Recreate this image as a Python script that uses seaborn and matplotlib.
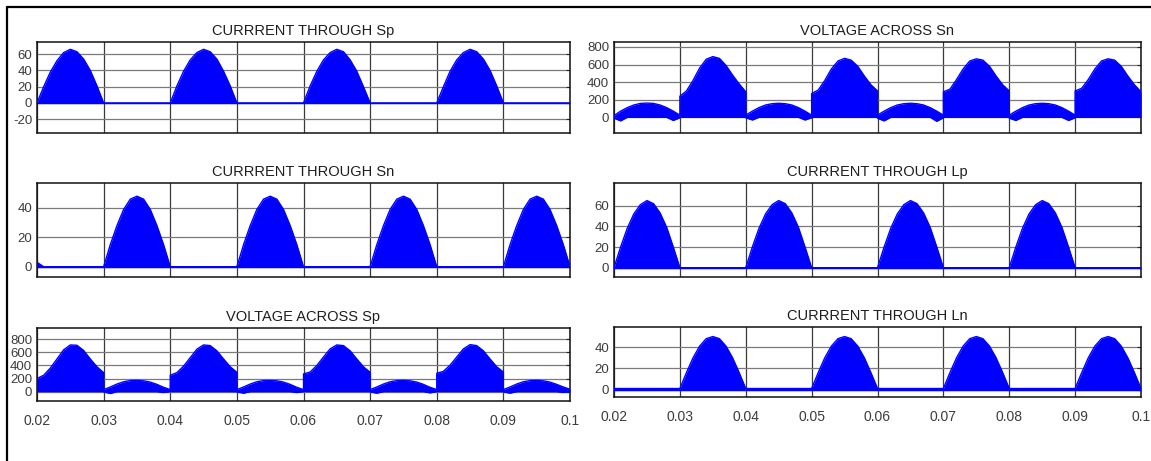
import numpy as np
import matplotlib
matplotlib.use("Agg")
import matplotlib.pyplot as plt
from matplotlib.lines import Line2D
import seaborn as sns

# ---------------- data ----------------
# time grid for current traces (s)
t_cur = np.round(np.arange(0.020, 0.1001, 0.001), 3)
# time grid for voltage traces: 8 half-cycles of 11 samples, boundaries repeated
t_volt = np.round(np.concatenate([np.arange(s, s + 0.0101, 0.001)[:11]
                                  for s in np.arange(0.02, 0.0999, 0.01)]), 4)

x_ticks = [0.02, 0.03, 0.04, 0.05, 0.06, 0.07, 0.08, 0.09, 0.10]
x_tick_labels = ["0.02", "0.03", "0.04", "0.05", "0.06", "0.07", "0.08", "0.09", "0.1"]

titles = ["CURRRENT THROUGH Sp", "CURRRENT THROUGH Sn", "VOLTAGE ACROSS Sp",
          "VOLTAGE ACROSS Sn", "CURRRENT THROUGH Lp", "CURRRENT THROUGH Ln"]

i_sp = [0, 20, 38, 52, 62, 66, 63, 54, 40, 21, 0,
        0, 0, 0, 0, 0, 0, 0, 0, 0,
        0, 21, 39, 53, 62, 66, 63, 54, 39, 21, 0,
        0, 0, 0, 0, 0, 0, 0, 0, 0,
        0, 21, 39, 53, 62, 66, 63, 53, 39, 20, 0,
        0, 0, 0, 0, 0, 0, 0, 0, 0,
        0, 20, 39, 53, 62, 66, 63, 54, 40, 21, 0,
        0, 0, 0, 0, 0, 0, 0, 0, 0, 0]

i_sn = [3, 0, 0, 0, 0, 0, 0, 0, 0, 0,
        0, 15, 28, 39, 46, 48, 46, 39, 28, 15, 0,
        0, 0, 0, 0, 0, 0, 0, 0, 0,
        0, 15, 28, 39, 46, 48, 46, 39, 28, 15, 0,
        0, 0, 0, 0, 0, 0, 0, 0, 0,
        0, 15, 28, 39, 46, 48, 46, 39, 28, 15, 0,
        0, 0, 0, 0, 0, 0, 0, 0, 0,
        0, 15, 28, 39, 46, 48, 46, 39, 28, 15, 0]

i_lp = [0, 20, 38, 52, 61, 65, 62, 53, 39, 20, 0,
        0, 0, 0, 0, 0, 0, 0, 0, 0,
        0, 20, 38, 52, 61, 65, 62, 53, 39, 20, 0,
        0, 0, 0, 0, 0, 0, 0, 0, 0,
        0, 20, 38, 52, 61, 65, 62, 53, 39, 20, 0,
        0, 0, 0, 0, 0, 0, 0, 0, 0,
        0, 20, 38, 52, 61, 65, 62, 53, 39, 20, 0,
        0, 0, 0, 0, 0, 0, 0, 0, 0, 0]

i_ln = [1, 1, 1, 1, 1, 1, 1, 1, 1, 1,
        1, 16, 30, 41, 48, 50, 48, 41, 30, 16, 1,
        1, 1, 1, 1, 1, 1, 1, 1, 1,
        1, 16, 30, 41, 48, 50, 48, 41, 30, 16, 1,
        1, 1, 1, 1, 1, 1, 1, 1, 1,
        1, 16, 30, 41, 48, 50, 48, 41, 30, 16, 1,
        1, 1, 1, 1, 1, 1, 1, 1, 1,
        1, 16, 30, 41, 48, 50, 48, 41, 30, 16, 1]

v_sp_hi = [200, 250, 360, 500, 640, 715, 710, 630, 500, 380, 290,
           30, 70, 115, 150, 168, 172, 165, 145, 110, 65, 30,
           250, 290, 390, 520, 650, 715, 705, 625, 500, 380, 295,
           30, 70, 115, 150, 168, 170, 165, 145, 110, 65, 30,
           270, 300, 400, 530, 655, 715, 705, 625, 500, 380, 295,
           30, 70, 115, 150, 168, 172, 165, 145, 110, 65, 30,
           280, 310, 405, 530, 655, 720, 705, 625, 500, 380, 300,
           30, 70, 115, 150, 168, 172, 165, 145, 110, 70, 35]
v_sp_lo = [0, 0, 0, 0, 0, 0, 0, 0, 0, 0, 0,
           -5, -30, 0, 0, 0, 0, 0, 0, 0, -15, 0,
           0, 0, 0, 0, 0, 0, 0, 0, 0, 0, 0,
           -5, -25, 0, 0, 0, 0, 0, 0, 0, -15, 0,
           0, 0, 0, 0, 0, 0, 0, 0, 0, 0, 0,
           -5, -25, 0, 0, 0, 0, 0, 0, 0, -20, 0,
           0, 0, 0, 0, 0, 0, 0, 0, 0, 0, 0,
           -5, -25, 0, 0, 0, 0, 0, 0, 0, -15, 0]

v_sn_hi = [20, 70, 110, 140, 158, 162, 158, 140, 110, 70, 25,
           240, 300, 420, 560, 660, 690, 670, 590, 480, 380, 290,
           25, 70, 110, 140, 155, 160, 155, 140, 110, 70, 25,
           270, 310, 420, 550, 640, 670, 650, 580, 470, 370, 300,
           25, 70, 110, 140, 155, 160, 155, 140, 110, 70, 25,
           290, 320, 430, 550, 640, 665, 650, 580, 470, 370, 300,
           25, 70, 110, 140, 155, 160, 155, 140, 110, 70, 25,
           300, 330, 430, 550, 640, 665, 650, 580, 470, 370, 290]
v_sn_lo = [-10, -40, 0, 0, 0, 0, 0, 0, 0, -35, -5,
           0, 0, 0, 0, 0, 0, 0, 0, 0, 0, 0,
           -5, -30, 0, 0, 0, 0, 0, 0, 0, -30, -5,
           0, 0, 0, 0, 0, 0, 0, 0, 0, 0, 0,
           -10, -40, 0, 0, 0, 0, 0, 0, 0, -45, -5,
           0, 0, 0, 0, 0, 0, 0, 0, 0, 0, 0,
           -10, -35, 0, 0, 0, 0, 0, 0, 0, -35, -5,
           0, 0, 0, 0, 0, 0, 0, 0, 0, 0, 0]

y_ticks = [[-20, 0, 20, 40, 60], [0, 20, 40], [0, 200, 400, 600, 800],
           [0, 200, 400, 600, 800], [0, 20, 40, 60], [0, 20, 40]]
y_lims = [(-37, 75), (-7, 57), (-145, 975), (-178, 856), (-9, 82), (-7, 59)]

# ---------------- figure ----------------
sns.set_style("white")
plt.rcParams["font.family"] = ["Liberation Sans", "DejaVu Sans"]

W, H = 1151, 461
fig = plt.figure(figsize=(W / 100, H / 100), dpi=100)
fig.patch.set_facecolor("white")

boxes = [(37, 42, 570, 133), (37, 183, 570, 277), (37, 328, 570, 401),
         (614, 42, 1141, 133), (614, 183, 1141, 277), (614, 327, 1141, 397)]

series = [
    (t_cur, None, i_sp),
    (t_cur, None, i_sn),
    (t_volt, v_sp_lo, v_sp_hi),
    (t_volt, v_sn_lo, v_sn_hi),
    (t_cur, None, i_lp),
    (t_cur, None, i_ln),
]

blue = "#0000ff"
for k, ((x0, y0, x1, y1), (tt, lo, hi)) in enumerate(zip(boxes, series)):
    ax = fig.add_axes([x0 / W, 1 - y1 / H, (x1 - x0) / W, (y1 - y0) / H])
    lo_arr = np.zeros(len(hi)) if lo is None else np.asarray(lo, float)
    hi_arr = np.asarray(hi, float)
    ax.fill_between(tt, lo_arr, hi_arr, color=blue, lw=0, zorder=3)
    sns.lineplot(x=tt, y=hi_arr, ax=ax, color=blue, lw=1.0,
                 estimator=None, sort=False, zorder=4)
    sns.lineplot(x=tt, y=lo_arr, ax=ax, color=blue, lw=1.0,
                 estimator=None, sort=False, zorder=4)
    ax.set_xlim(0.02, 0.1)
    ax.set_ylim(*y_lims[k])
    ax.set_xticks(x_ticks)
    ax.set_yticks(y_ticks[k])
    ax.set_yticklabels([str(v) for v in y_ticks[k]])
    if k in (2, 5):
        ax.set_xticklabels(x_tick_labels)
    else:
        ax.set_xticklabels([])
    ax.set_xlabel("")
    ax.set_ylabel("")
    ax.xaxis.grid(True, color="#3a3a3a", lw=0.9, zorder=1)
    ax.yaxis.grid(True, color="#7a7a7a", lw=0.9, zorder=1)
    ax.set_axisbelow(True)
    ax.tick_params(axis="both", direction="in", length=3, width=0.8,
                   labelsize=9.5, labelcolor="#3c3c3c", pad=3.5,
                   right=True, top=False)
    ax.tick_params(axis="x", pad=9, labelsize=10)
    for sp in ax.spines.values():
        sp.set_visible(True)
        sp.set_color("#111111")
        sp.set_linewidth(1.1)
    ax.set_title(titles[k], fontsize=10.5, color="#1e1e1e", pad=5)

# outer frame (left and top edges)
fig.add_artist(Line2D([7 / W, 7 / W], [0, 1 - 7 / H], color="black", lw=1.6,
                      transform=fig.transFigure))
fig.add_artist(Line2D([7 / W, 1], [1 - 7 / H, 1 - 7 / H], color="black", lw=1.6,
                      transform=fig.transFigure))

fig.savefig("out.png", dpi=100, facecolor="white")
